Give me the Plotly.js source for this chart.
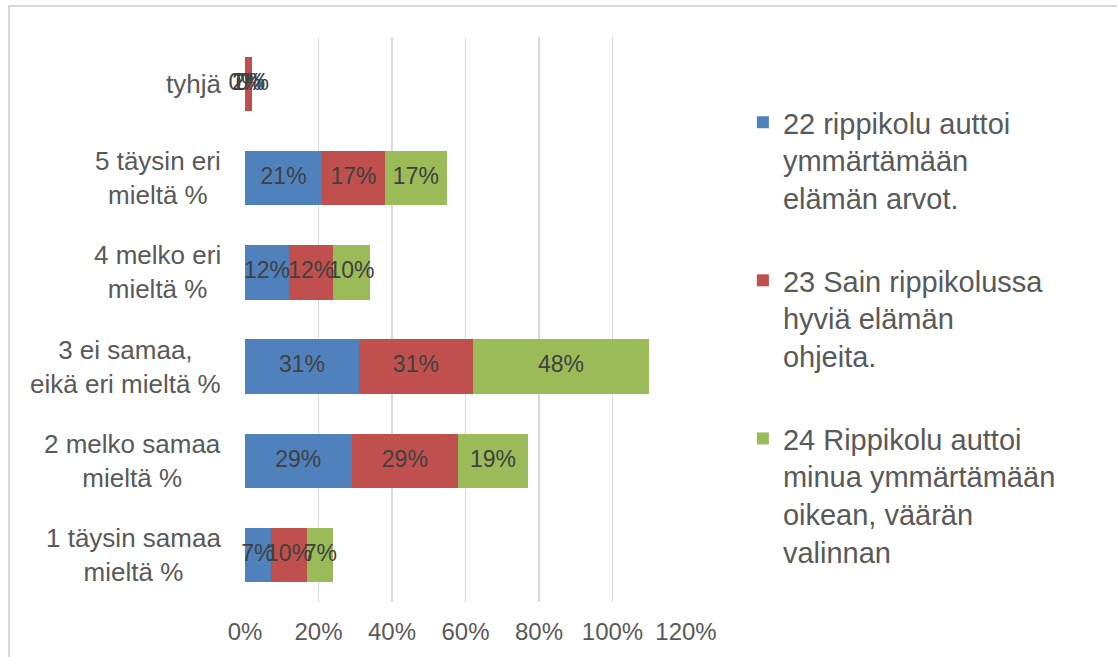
<!DOCTYPE html>
<html>
<head>
<meta charset="utf-8">
<script src="https://cdn.plot.ly/plotly-3.0.1.min.js"></script>
<style>
  body { margin: 0; background: #fff; }
  #frame {
    position: absolute; left: 8px; top: 5px;
    border-left: 2px solid #d9d9d9; border-top: 2px solid #d9d9d9;
  }
  #chart { width: 1107px; height: 650px; }
</style>
</head>
<body>
<div id="frame"><div id="chart"></div></div>
<script>
// categories, bottom to top
const categories = [
  '1 täysin samaa<br>mieltä %',
  '2 melko samaa<br>mieltä %',
  '3 ei samaa,<br>eikä eri mieltä %',
  '4 melko eri<br>mieltä %',
  '5 täysin eri<br>mieltä %',
  'tyhjä'
];

const seriesNames = [
  '22 rippikolu auttoi<br>ymmärtämään<br>elämän arvot.',
  '23 Sain rippikolussa<br>hyviä elämän<br>ohjeita.',
  '24 Rippikolu auttoi<br>minua ymmärtämään<br>oikean, väärän<br>valinnan'
];
const seriesColors = ['#4f81bd', '#c0504d', '#9bbb59'];

// percentages per category
const q22 = [7, 29, 31, 12, 21, 0];
const q23 = [10, 29, 31, 12, 17, 2];
const q24 = [7, 19, 48, 10, 17, 0];
const seriesValues = [q22, q23, q24];

const xTicks = [0, 20, 40, 60, 80, 100, 120];
const xTickLabels = ['0%', '20%', '40%', '60%', '80%', '100%', '120%'];

let traces = [];
seriesValues.forEach(function(vals, i) {
  traces.push({
    type: 'bar',
    orientation: 'h',
    x: vals,
    y: categories,
    name: seriesNames[i],
    legendgroup: 'g' + i,
    marker: { color: seriesColors[i] },
    hoverinfo: 'x+name'
  });
});

// data labels centred in each segment (also shows the 0% ones)
let labX = [], labY = [], labT = [];
categories.forEach(function(c, j) {
  let base = 0;
  seriesValues.forEach(function(vals) {
    labX.push(base + vals[j] / 2);
    labY.push(c);
    labT.push(vals[j] + '%');
    base += vals[j];
  });
});
traces.push({
  type: 'scatter',
  mode: 'text',
  x: labX,
  y: labY,
  text: labT,
  textposition: 'middle center',
  textfont: { family: 'Liberation Sans, Arial, sans-serif', size: 23, color: '#404040' },
  cliponaxis: false,
  showlegend: false,
  hoverinfo: 'skip'
});

// category labels, centred multi-line text
let annotations = categories.map(function(c) {
  return {
    xref: 'paper', yref: 'y',
    x: 0, y: c,
    xanchor: 'right', yanchor: 'middle',
    xshift: -22,
    text: c,
    align: 'center',
    showarrow: false,
    font: { size: 26, color: '#595959' }
  };
});

let layout = {
  barmode: 'stack',
  bargap: 0.424,
  margin: { l: 235, r: 431, t: 30, b: 55 },
  paper_bgcolor: '#ffffff',
  plot_bgcolor: '#ffffff',
  font: { family: 'Liberation Sans, Arial, sans-serif', color: '#595959' },
  xaxis: {
    range: [0, 120],
    tickmode: 'array',
    tickvals: xTicks,
    ticktext: xTickLabels,
    showgrid: true,
    gridcolor: '#d9d9d9',
    gridwidth: 1.5,
    zeroline: false,
    showline: false,
    ticks: '',
    ticklabelstandoff: 13,
    tickfont: { size: 24, color: '#595959' },
    fixedrange: true
  },
  yaxis: {
    type: 'category',
    range: [-0.5, 5.5],
    showticklabels: false,
    showgrid: false,
    zeroline: false,
    showline: false,
    ticks: '',
    fixedrange: true
  },
  legend: {
    x: 1.129, xanchor: 'left',
    y: 0.894, yanchor: 'top',
    valign: 'top',
    traceorder: 'grouped',
    tracegroupgap: 42,
    font: { size: 29, color: '#595959' },
    bgcolor: 'rgba(0,0,0,0)'
  },
  annotations: annotations,
  showlegend: true
};

Plotly.newPlot('chart', traces, layout, { displayModeBar: false, staticPlot: true });
</script>
</body>
</html>
